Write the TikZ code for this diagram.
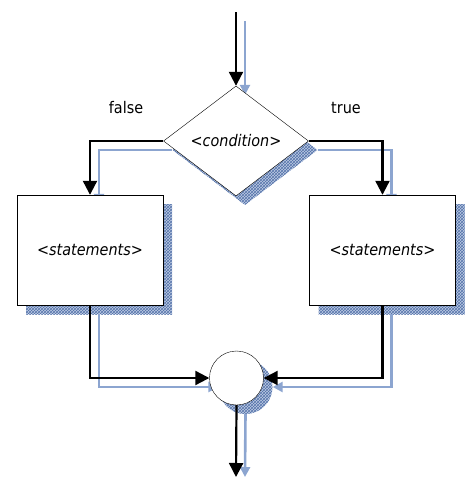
\documentclass[tikz,border=0pt]{standalone}
\usepackage{fontspec}
\newfontfamily\flowfont{DejaVu Sans Condensed}
\usetikzlibrary{shapes.geometric,arrows.meta,patterns}

\definecolor{shadowblue}{RGB}{85,115,170}
\definecolor{shadowfill}{RGB}{190,204,228}
\definecolor{shadowline}{RGB}{140,165,208}

\tikzset{
  flow/.style={line width=2.2pt, -{Triangle[width=14pt,length=14pt]}},
  flowshade/.style={line width=2.6pt, draw=shadowline, -{Triangle[width=10pt,length=10pt]}},
  shade/.style={draw=none, preaction={fill=shadowfill}, pattern=crosshatch, pattern color=shadowblue},
  test/.style={diamond, minimum width=145pt, minimum height=110pt, inner sep=0pt},
  stmt/.style={rectangle, minimum width=146pt, minimum height=110pt, inner sep=0pt},
  merge/.style={circle, minimum size=54pt, inner sep=0pt},
  txt/.style={font=\flowfont\fontsize{16}{19}\selectfont}
}

\begin{document}
\begin{tikzpicture}[x=1pt, y=-1pt]
  \useasboundingbox (0,0) rectangle (465,480);
  % shadows
  \begin{scope}[shift={(9,9)}]
    \coordinate (stop) at (236,12);
    \coordinate (send) at (236,468);
    \node[test, shade] (scond) at (236,141) {};
    \node[stmt, shade] (sleft) at (90,250) {};
    \node[stmt, shade] (sright) at (382.5,250) {};
    \node[merge, shade] (sjoin) at (236.5,378) {};
    \draw[flowshade] (stop) -- (scond.north);
    \draw[flowshade] (scond.west) -| (sleft.north);
    \draw[flowshade] (scond.east) -| (sright.north);
    \draw[flowshade] (sleft.south) |- (sjoin.west);
    \draw[flowshade] (sright.south) |- (sjoin.east);
    \draw[flowshade] (sjoin.south) -- (send);
  \end{scope}
  % flowchart
  \coordinate (top) at (236,12);
  \coordinate (end) at (236,477);
  \node[test, draw, fill=white, txt] (cond) at (236,141) {\itshape <condition>};
  \node[stmt, draw, fill=white, txt] (left) at (90,250) {\itshape <statements>};
  \node[stmt, draw, fill=white, txt] (right) at (382.5,250) {\itshape <statements>};
  \node[merge, draw, fill=white] (join) at (236.5,378) {};
  \node[txt] (no) at (126,108) {false};
  \node[txt] (yes) at (346,108) {true};
  \draw[flow] (top) -- (cond.north);
  \draw[flow] (cond.west) -| (left.north);
  \draw[flow] (cond.east) -| (right.north);
  \draw[flow] (left.south) |- (join.west);
  \draw[flow] (right.south) |- (join.east);
  \draw[flow] (join.south) -- (end);
\end{tikzpicture}
\end{document}
